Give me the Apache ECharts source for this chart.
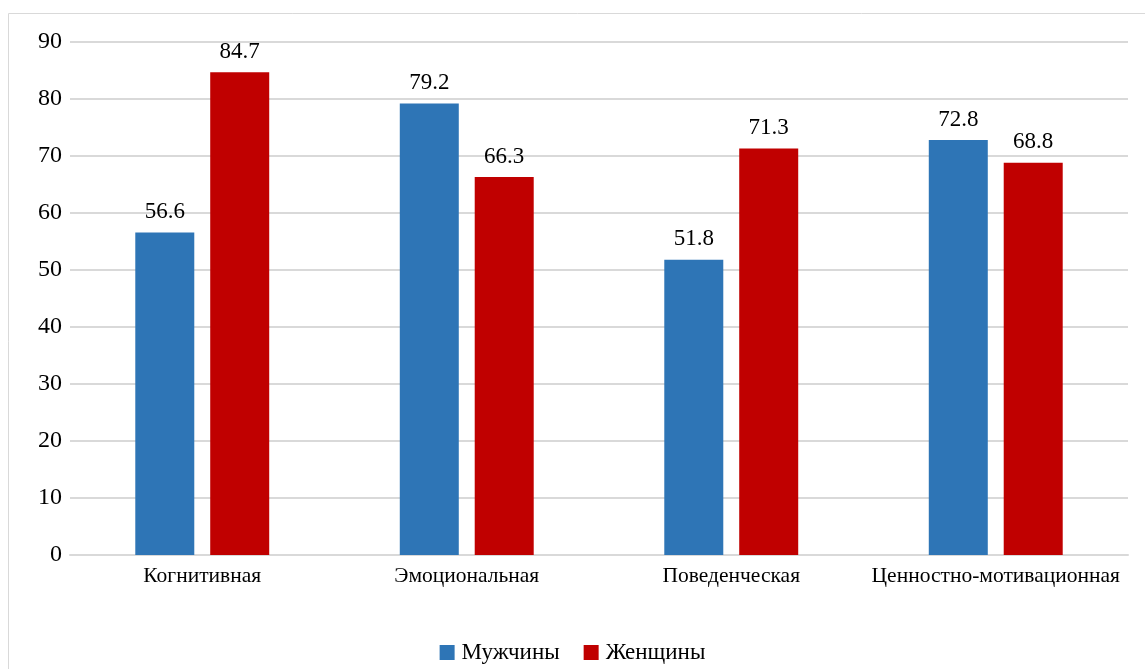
<!DOCTYPE html>
<html><head><meta charset="utf-8">
<script src="https://cdn.jsdelivr.net/npm/echarts@6/dist/echarts.min.js"></script>
<style>html,body{margin:0;padding:0;background:#fff}#c{width:1145px;height:669px}</style>
</head><body><div id="c"></div>
<script>
const categories = ['Когнитивная', 'Эмоциональная', 'Поведенческая', 'Ценностно-мотивационная'];
const men = [56.6, 79.2, 51.8, 72.8];
const women = [84.7, 66.3, 71.3, 68.8];
const seriesNames = ['Мужчины', 'Женщины'];
const font = '"Liberation Serif", "Times New Roman", serif';
const chart = echarts.init(document.getElementById('c'));
chart.setOption({
  animation: false,
  textStyle: { fontFamily: font },
  graphic: [{ type: 'rect', shape: { x: 8.5, y: 13.5, width: 1160, height: 700 }, style: { fill: 'none', stroke: '#d9d9d9', lineWidth: 1 } }],
  grid: { left: 70, right: 17, top: 42, bottom: 114 },
  legend: {
    bottom: 0, left: 'center', itemWidth: 15, itemHeight: 15, itemGap: 24,
    icon: 'rect',
    textStyle: { fontFamily: font, fontSize: 23, color: '#000', padding: [0, 0, 0, 2] },
    data: seriesNames
  },
  xAxis: {
    type: 'category', data: categories,
    axisLine: { lineStyle: { color: '#d9d9d9', width: 2 } },
    axisTick: { show: false },
    axisLabel: { fontFamily: font, fontSize: 21.5, color: '#000', margin: 10, interval: 0, hideOverlap: false }
  },
  yAxis: {
    type: 'value', min: 0, max: 90, interval: 10,
    axisLine: { show: false }, axisTick: { show: false },
    splitLine: { lineStyle: { color: '#d9d9d9', width: 2 } },
    axisLabel: { fontFamily: font, fontSize: 24, color: '#000', margin: 8 }
  },
  series: [
    { name: seriesNames[0], type: 'bar', data: men, barWidth: 59, barGap: '27%',
      itemStyle: { color: '#2E75B6' },
      label: { show: true, position: 'top', distance: 9, fontFamily: font, fontSize: 23, color: '#000' } },
    { name: seriesNames[1], type: 'bar', data: women, barWidth: 59,
      itemStyle: { color: '#C00000' },
      label: { show: true, position: 'top', distance: 9, fontFamily: font, fontSize: 23, color: '#000' } }
  ]
});
</script></body></html>
